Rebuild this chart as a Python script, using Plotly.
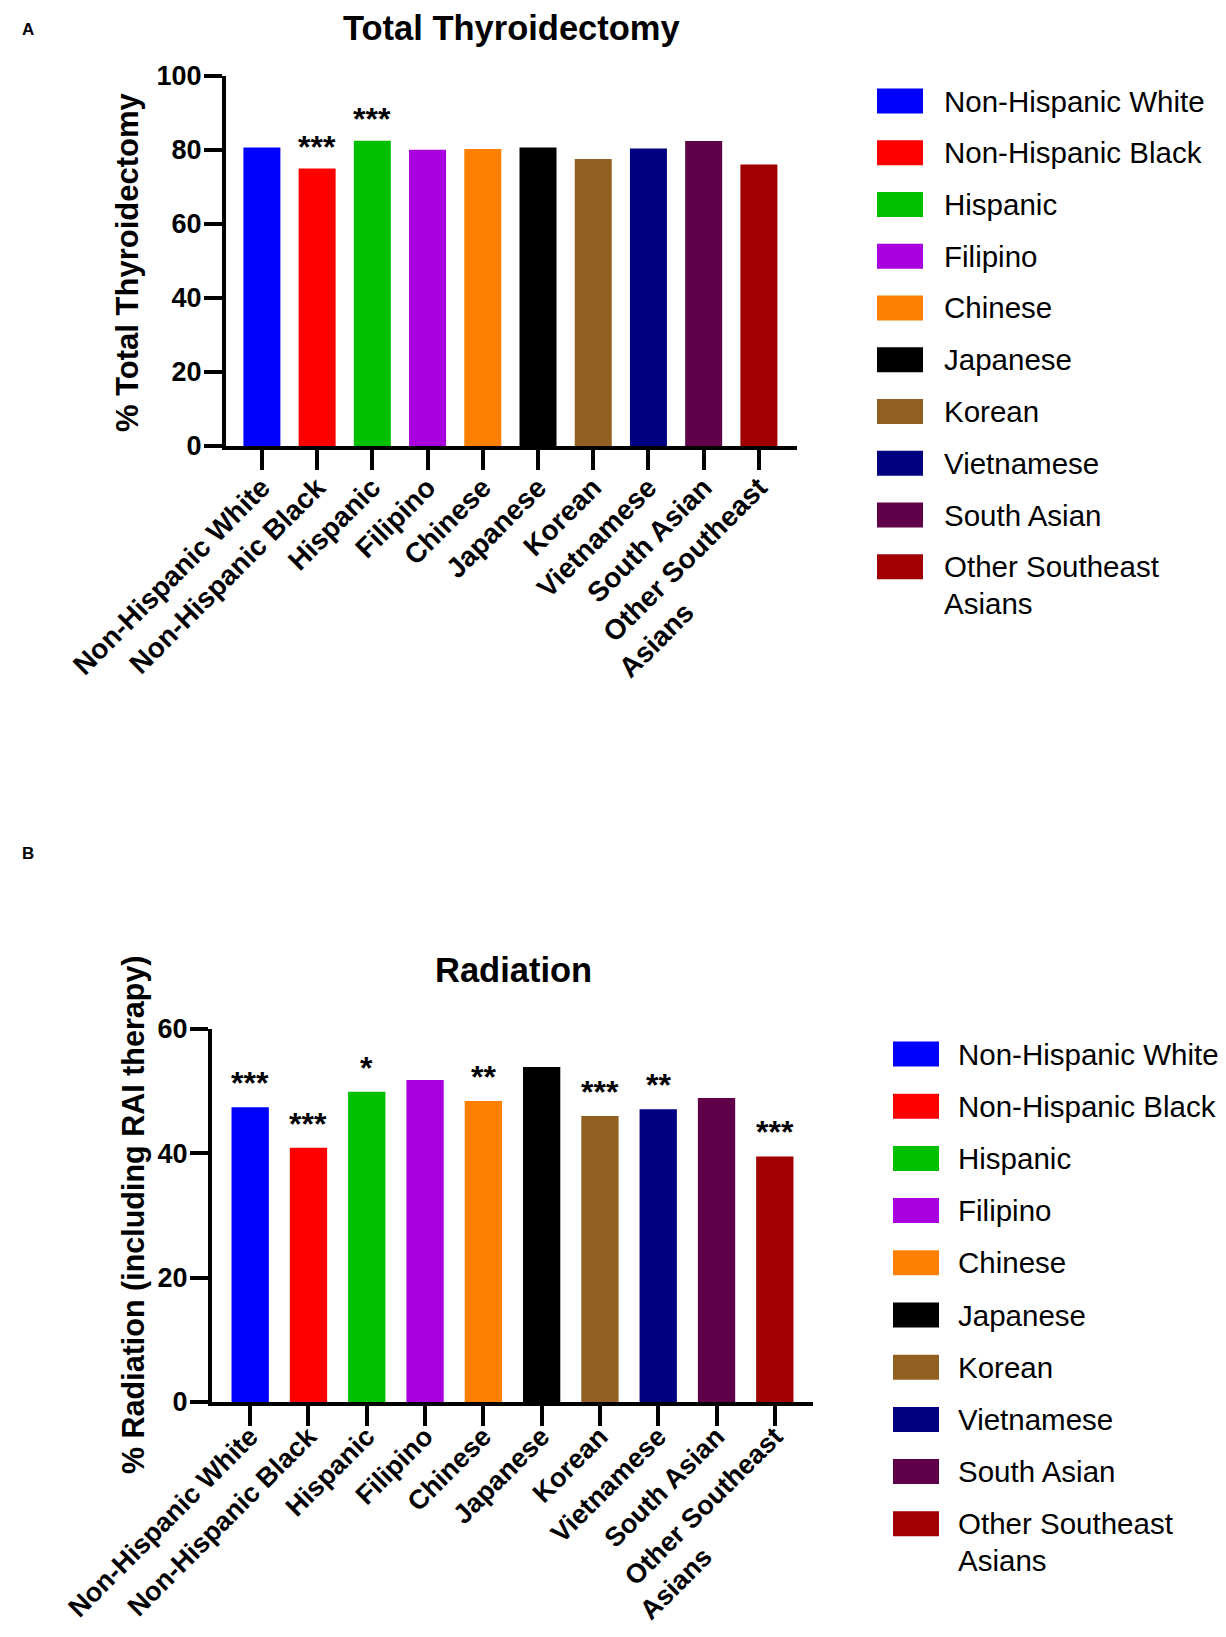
import plotly.graph_objects as go

# The page body adds an 8 px margin around the figure; the figure is sized so the
# page never scrolls, and positions below are page pixels of the 1226x1637 window.
OFF = 8
W, H = 1226 - 2 * OFF, 1637 - 2 * OFF

categories = ["Non-Hispanic White", "Non-Hispanic Black", "Hispanic", "Filipino", "Chinese",
              "Japanese", "Korean", "Vietnamese", "South Asian", "Other Southeast Asians"]
tick_labels = ["Non-Hispanic White", "Non-Hispanic Black", "Hispanic", "Filipino", "Chinese",
               "Japanese", "Korean", "Vietnamese", "South Asian",
               "Other Southeast<br>Asians" + "\u00a0" * 18]
legend_lines = [["Non-Hispanic White"], ["Non-Hispanic Black"], ["Hispanic"], ["Filipino"], ["Chinese"],
                ["Japanese"], ["Korean"], ["Vietnamese"], ["South Asian"], ["Other Southeast", "Asians"]]
colors = ["#0000FF", "#FF0000", "#00BF00", "#A800DF", "#FF8000",
          "#000000", "#926020", "#000080", "#600048", "#A00000"]

thyroidectomy_pct = [80.7, 75.0, 82.5, 80.1, 80.3, 80.7, 77.6, 80.4, 82.4, 76.1]
thyroidectomy_sig = ["", "***", "***", "", "", "", "", "", "", ""]

radiation_pct = [47.4, 40.9, 49.9, 51.8, 48.4, 53.9, 46.0, 47.1, 48.9, 39.5]
radiation_sig = ["***", "***", "*", "", "**", "", "***", "**", "", "***"]

FONT = "Liberation Sans"


def px(x):
    return (x - OFF) / W


def py(y):
    return 1 - (y - OFF) / H


fig = go.Figure()
fig.add_trace(go.Bar(x=categories, y=thyroidectomy_pct, marker=dict(color=colors, line=dict(width=0)),
                     width=0.67, xaxis="x", yaxis="y", showlegend=False))
fig.add_trace(go.Bar(x=categories, y=radiation_pct, marker=dict(color=colors, line=dict(width=0)),
                     width=0.64, xaxis="x2", yaxis="y2", showlegend=False))

tickfont = dict(family=FONT, size=27, color="black", weight="bold")
xtickfont = dict(family=FONT, size=28, color="black", weight="bold")

common_x = dict(type="category", tickvals=categories, ticktext=tick_labels, tickangle=-45,
                showline=True, linewidth=4, linecolor="black", ticks="outside", ticklen=20,
                tickwidth=4, tickcolor="black", tickfont=xtickfont, showgrid=False, zeroline=False,
                fixedrange=True, automargin=False, ticklabelstandoff=-10)
common_y = dict(showline=True, linewidth=4, linecolor="black", ticks="outside", ticklen=18,
                tickwidth=4, tickcolor="black", tickfont=tickfont, showgrid=False, zeroline=False,
                dtick=20, fixedrange=True, automargin=False, ticklabelstandoff=-3)

fig.update_layout(
    template="none",
    width=W, height=H, margin=dict(l=0, r=0, t=0, b=0, pad=0), autosize=False,
    paper_bgcolor="white", plot_bgcolor="white", showlegend=False,
    xaxis=dict(common_x, domain=[px(226), px(797)], range=[-0.65, 9.69], anchor="y"),
    yaxis=dict(common_y, domain=[py(446), py(76)], range=[0, 100], anchor="x"),
    xaxis2=dict(common_x, domain=[px(212), px(813)], range=[-0.655, 9.655], anchor="y2",
                ticklabelstandoff=-16, tickfont=dict(xtickfont, size=27)),
    yaxis2=dict(common_y, domain=[py(1402), py(1029)], range=[0, 60], anchor="x2"),
)

ann = []


def text_ann(text, x, y, size, bold=True, angle=0, xanchor="center"):
    f = dict(family=FONT, size=size, color="black")
    if bold:
        f["weight"] = "bold"
    return dict(text=text, x=px(x), y=py(y), xref="paper", yref="paper", showarrow=False,
                xanchor=xanchor, yanchor="middle", textangle=angle, font=f)


# panel letters
ann.append(text_ann("A", 28, 29, 17))
ann.append(text_ann("B", 28, 853, 17))
# titles
ann.append(text_ann("Total Thyroidectomy", 511, 28, 34.5))
ann.append(text_ann("Radiation", 513, 970, 34.5))
# y axis titles
ann.append(text_ann("% Total Thyroidectomy", 127, 262, 31, angle=-90))
ann.append(text_ann("% Radiation (including RAI therapy)", 133, 1215, 30.5, angle=-90))

# significance stars
for cat, val, s in zip(categories, thyroidectomy_pct, thyroidectomy_sig):
    if s:
        ann.append(dict(text=s, x=cat, y=val, xref="x", yref="y", xanchor="center", yanchor="bottom",
                        showarrow=False, yshift=2,
                        font=dict(family=FONT, size=32, color="black", weight="bold")))
for cat, val, s in zip(categories, radiation_pct, radiation_sig):
    if s:
        ann.append(dict(text=s, x=cat, y=val, xref="x2", yref="y2", xanchor="center", yanchor="bottom",
                        showarrow=False, yshift=4,
                        font=dict(family=FONT, size=32, color="black", weight="bold")))

# legends
shapes = []


def add_legend(x_sq, x_txt, y0, step):
    for i, (lines, col) in enumerate(zip(legend_lines, colors)):
        yc = y0 + step * i
        shapes.append(dict(type="rect", xref="paper", yref="paper", x0=px(x_sq), x1=px(x_sq + 46),
                           y0=py(yc + 12.5), y1=py(yc - 12.5), fillcolor=col, line=dict(width=0)))
        for j, line in enumerate(lines):
            ann.append(text_ann(line, x_txt, yc + 36.5 * j, 29.5, bold=False, xanchor="left"))


add_legend(877, 942, 101, 51.75)
add_legend(893, 956, 1054, 52.2)

fig.update_layout(annotations=ann, shapes=shapes)
fig.write_html("out.html")
